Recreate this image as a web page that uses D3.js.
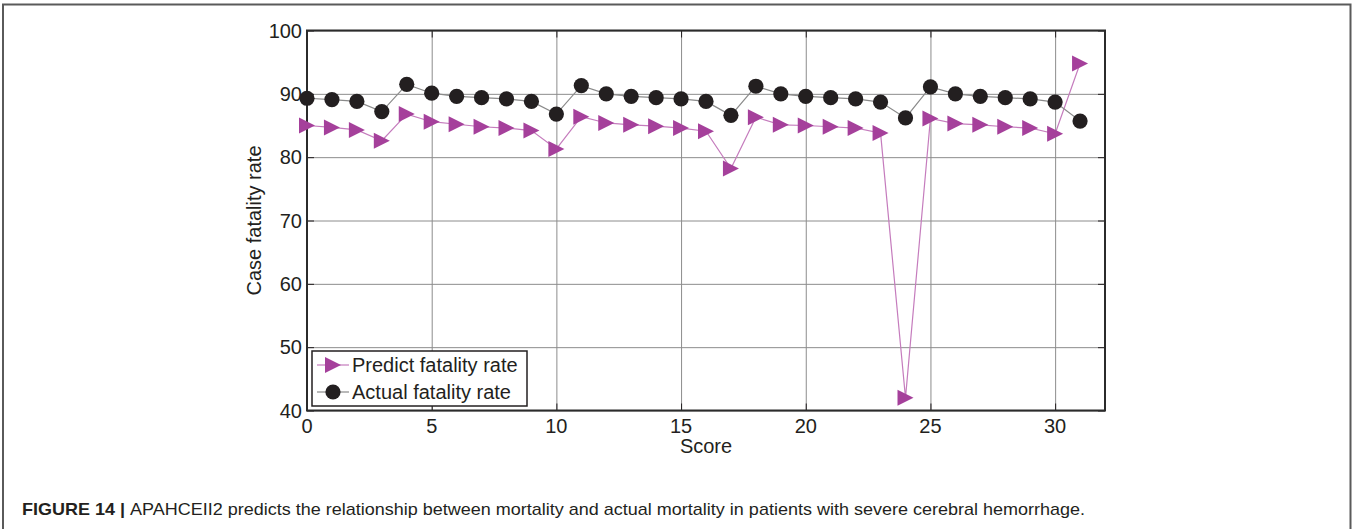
<!DOCTYPE html>
<html>
<head>
<meta charset="utf-8">
<script src="https://cdn.jsdelivr.net/npm/d3@7"></script>
<style>
  body { margin: 0; background: #fff; }
  svg { display: block; font-family: "Liberation Sans", Arial, Helvetica, sans-serif; }
</style>
</head>
<body>
<svg id="chart"></svg>
<script>
const scores = d3.range(0, 32);
const predictRate = [85.0, 84.7, 84.3, 82.6, 86.8, 85.6, 85.2, 84.8, 84.6, 84.2,
  81.3, 86.4, 85.4, 85.1, 84.9, 84.6, 84.1, 78.2, 86.3, 85.1,
  85.0, 84.8, 84.6, 83.8, 42.0, 86.1, 85.3, 85.1, 84.8, 84.6,
  83.7, 94.8];
const actualRate = [89.3, 89.1, 88.8, 87.2, 91.5, 90.1, 89.6, 89.4, 89.2, 88.8,
  86.8, 91.3, 90.0, 89.6, 89.4, 89.2, 88.8, 86.6, 91.2, 90.0,
  89.6, 89.4, 89.2, 88.7, 86.2, 91.1, 90.0, 89.6, 89.4, 89.2,
  88.7, 85.7];
const xTicks = [0, 5, 10, 15, 20, 25, 30];
const yTicks = [40, 50, 60, 70, 80, 90, 100];
const seriesNames = ["Predict fatality rate", "Actual fatality rate"];
const captionBold = "FIGURE 14 | ";
const captionText = "APAHCEII2 predicts the relationship between mortality and actual mortality in patients with severe cerebral hemorrhage.";

const width = 1357, height = 529;
const plot = { left: 307, right: 1105, top: 30.5, bottom: 410.5 };
const ink = "#231f20";
const purple = "#a5409b";

const svg = d3.select("#chart").attr("width", width).attr("height", height);

// outer figure frame (open at the bottom)
svg.append("path")
  .attr("d", `M3,${height} V4.5 H1350.5 V${height}`)
  .attr("fill", "none")
  .attr("stroke", "#5a5a5a")
  .attr("stroke-width", 2);

const x = d3.scaleLinear().domain([0, 32]).range([plot.left, plot.right]);
const y = d3.scaleLinear().domain([40, 100]).range([plot.bottom, plot.top]);

const g = svg.append("g");

// grid
g.append("g")
  .call(d3.axisLeft(y).tickValues(yTicks).tickSize(-(plot.right - plot.left)).tickFormat(""))
  .attr("transform", `translate(${plot.left},0)`)
  .call(s => s.select(".domain").remove())
  .call(s => s.selectAll(".tick line").attr("stroke", "#8c8c8c").attr("stroke-width", 1));
g.append("g")
  .call(d3.axisBottom(x).tickValues(xTicks).tickSize(-(plot.bottom - plot.top)).tickFormat(""))
  .attr("transform", `translate(0,${plot.bottom})`)
  .call(s => s.select(".domain").remove())
  .call(s => s.selectAll(".tick line").attr("stroke", "#8c8c8c").attr("stroke-width", 1));

// inward ticks on all four sides
const tickLen = 7;
g.append("g")
  .call(d3.axisBottom(x).tickValues(xTicks).tickSizeInner(-tickLen).tickSizeOuter(0).tickFormat(""))
  .attr("transform", `translate(0,${plot.bottom})`)
  .call(s => s.select(".domain").remove())
  .call(s => s.selectAll(".tick line").attr("stroke", ink));
g.append("g")
  .call(d3.axisTop(x).tickValues(xTicks).tickSizeInner(-tickLen).tickSizeOuter(0).tickFormat(""))
  .attr("transform", `translate(0,${plot.top})`)
  .call(s => s.select(".domain").remove())
  .call(s => s.selectAll(".tick line").attr("stroke", ink));
g.append("g")
  .call(d3.axisLeft(y).tickValues(yTicks).tickSizeInner(-tickLen).tickSizeOuter(0).tickFormat(""))
  .attr("transform", `translate(${plot.left},0)`)
  .call(s => s.select(".domain").remove())
  .call(s => s.selectAll(".tick line").attr("stroke", ink));
g.append("g")
  .call(d3.axisRight(y).tickValues(yTicks).tickSizeInner(-tickLen).tickSizeOuter(0).tickFormat(""))
  .attr("transform", `translate(${plot.right},0)`)
  .call(s => s.select(".domain").remove())
  .call(s => s.selectAll(".tick line").attr("stroke", ink));

// axes box
g.append("rect")
  .attr("x", plot.left).attr("y", plot.top)
  .attr("width", plot.right - plot.left).attr("height", plot.bottom - plot.top)
  .attr("fill", "none").attr("stroke", "#2b2b2b").attr("stroke-width", 2);

// tick labels
g.append("g").selectAll("text").data(yTicks).join("text")
  .attr("x", plot.left - 5)
  .attr("y", d => y(d))
  .attr("dy", "0.36em")
  .attr("text-anchor", "end")
  .attr("font-size", 20)
  .attr("fill", ink)
  .text(d => d);
g.append("g").selectAll("text").data(xTicks).join("text")
  .attr("x", d => x(d))
  .attr("y", plot.bottom + 22)
  .attr("text-anchor", "middle")
  .attr("font-size", 20)
  .attr("fill", ink)
  .text(d => d);

// axis titles
g.append("text")
  .attr("x", (plot.left + plot.right) / 2)
  .attr("y", 453)
  .attr("text-anchor", "middle")
  .attr("font-size", 20)
  .attr("fill", ink)
  .text("Score");
g.append("text")
  .attr("transform", `translate(261,${(plot.top + plot.bottom) / 2}) rotate(-90)`)
  .attr("text-anchor", "middle")
  .attr("font-size", 20)
  .attr("fill", ink)
  .text("Case fatality rate");

// series
const trianglePath = "M-8,-8L8,0L-8,8Z";
const predictLine = d3.line().x((d, i) => x(scores[i])).y(d => y(d));
const actualLine = d3.line().x((d, i) => x(scores[i])).y(d => y(d));

g.append("path")
  .attr("d", predictLine(predictRate))
  .attr("fill", "none")
  .attr("stroke", "#c57cbd")
  .attr("stroke-width", 1.2);
g.append("g").selectAll("path").data(predictRate).join("path")
  .attr("transform", (d, i) => `translate(${x(scores[i])},${y(d)})`)
  .attr("d", trianglePath)
  .attr("fill", purple);

g.append("path")
  .attr("d", actualLine(actualRate))
  .attr("fill", "none")
  .attr("stroke", "#8a8a8a")
  .attr("stroke-width", 1.2);
g.append("g").selectAll("circle").data(actualRate).join("circle")
  .attr("cx", (d, i) => x(scores[i]))
  .attr("cy", d => y(d))
  .attr("r", 7.6)
  .attr("fill", ink);

// legend
const legend = g.append("g");
legend.append("rect")
  .attr("x", 312).attr("y", 351)
  .attr("width", 215).attr("height", 55)
  .attr("fill", "#fff").attr("stroke", ink).attr("stroke-width", 1.5);
const legendRows = [
  { name: seriesNames[0], yy: 365, line: "#c57cbd", marker: "tri" },
  { name: seriesNames[1], yy: 392, line: "#8a8a8a", marker: "dot" }
];
legendRows.forEach(r => {
  legend.append("line")
    .attr("x1", 317).attr("x2", 349).attr("y1", r.yy).attr("y2", r.yy)
    .attr("stroke", r.line).attr("stroke-width", 1.2);
  if (r.marker === "tri") {
    legend.append("path")
      .attr("transform", `translate(333,${r.yy})`)
      .attr("d", trianglePath).attr("fill", purple);
  } else {
    legend.append("circle").attr("cx", 333).attr("cy", r.yy).attr("r", 7.6).attr("fill", ink);
  }
  legend.append("text")
    .attr("x", 352).attr("y", r.yy)
    .attr("dy", "0.36em")
    .attr("font-size", 20)
    .attr("fill", ink)
    .text(r.name);
});

// caption
const cap = svg.append("text")
  .attr("x", 22).attr("y", 515)
  .attr("font-size", 17)
  .attr("fill", ink)
  .attr("textLength", 1063)
  .attr("lengthAdjust", "spacingAndGlyphs");
cap.append("tspan").attr("font-weight", "bold").text(captionBold);
cap.append("tspan").text(captionText);
</script>
</body>
</html>
